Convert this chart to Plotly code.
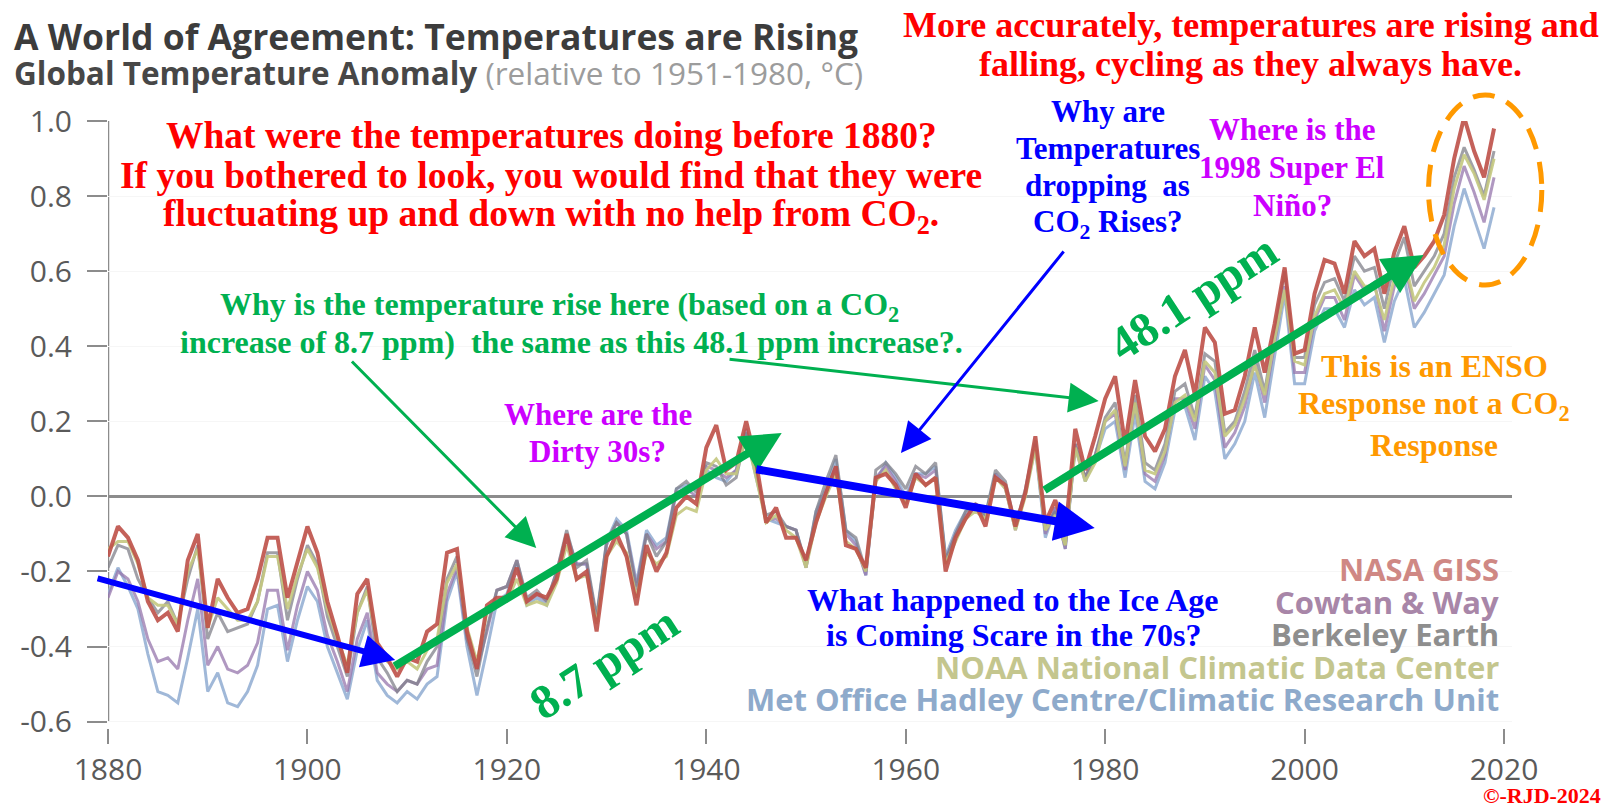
'''
    Global temperature anomaly chart (five datasets, 1880-2019)
    with the red / green / blue commentary laid over it.
'''

import plotly.graph_objects as go

years = list(range(1880, 2020))

nasa_giss = [
    -0.16, -0.08, -0.11, -0.17, -0.28, -0.33, -0.31, -0.36, -0.17, -0.10,
    -0.35, -0.22, -0.27, -0.31, -0.30, -0.22, -0.11, -0.11, -0.27, -0.17,
    -0.08, -0.15, -0.28, -0.37, -0.47, -0.26, -0.22, -0.39, -0.43, -0.48,
    -0.43, -0.44, -0.36, -0.34, -0.15, -0.14, -0.36, -0.46, -0.29, -0.27,
    -0.27, -0.19, -0.28, -0.26, -0.27, -0.22, -0.10, -0.22, -0.20, -0.36,
    -0.16, -0.10, -0.16, -0.29, -0.13, -0.20, -0.15, -0.03, -0.00, -0.02,
    0.13, 0.19, 0.07, 0.09, 0.20, 0.09, -0.07, -0.03, -0.11, -0.11,
    -0.17, -0.07, 0.01, 0.08, -0.13, -0.14, -0.19, 0.05, 0.06, 0.03,
    -0.03, 0.06, 0.03, 0.05, -0.20, -0.11, -0.06, -0.02, -0.08, 0.05,
    0.03, -0.08, 0.01, 0.16, -0.07, -0.01, -0.10, 0.18, 0.07, 0.16,
    0.26, 0.32, 0.14, 0.31, 0.16, 0.12, 0.18, 0.32, 0.39, 0.27,
    0.45, 0.41, 0.22, 0.23, 0.32, 0.45, 0.33, 0.46, 0.61, 0.38,
    0.39, 0.54, 0.63, 0.62, 0.54, 0.68, 0.64, 0.66, 0.54, 0.65,
    0.72, 0.61, 0.64, 0.68, 0.75, 0.90, 1.01, 0.92, 0.85, 0.98,
]

cowtan_way = [
    -0.27, -0.20, -0.22, -0.28, -0.38, -0.44, -0.43, -0.46, -0.33, -0.22,
    -0.45, -0.40, -0.46, -0.47, -0.45, -0.39, -0.25, -0.25, -0.41, -0.29,
    -0.20, -0.25, -0.37, -0.44, -0.52, -0.38, -0.31, -0.47, -0.50, -0.52,
    -0.49, -0.50, -0.46, -0.45, -0.26, -0.19, -0.38, -0.46, -0.36, -0.25,
    -0.24, -0.17, -0.28, -0.26, -0.28, -0.20, -0.10, -0.18, -0.18, -0.33,
    -0.13, -0.07, -0.10, -0.24, -0.10, -0.14, -0.12, 0.01, 0.02, 0.00,
    0.08, 0.07, 0.05, 0.07, 0.18, 0.06, -0.06, -0.06, -0.08, -0.09,
    -0.19, -0.05, 0.01, 0.08, -0.10, -0.13, -0.21, 0.05, 0.08, 0.04,
    -0.01, 0.06, 0.05, 0.07, -0.17, -0.10, -0.05, -0.03, -0.06, 0.06,
    0.02, -0.09, 0.01, 0.14, -0.10, -0.03, -0.14, 0.14, 0.05, 0.11,
    0.20, 0.22, 0.07, 0.25, 0.06, 0.04, 0.11, 0.26, 0.26, 0.18,
    0.35, 0.31, 0.13, 0.17, 0.24, 0.36, 0.25, 0.41, 0.56, 0.33,
    0.33, 0.47, 0.53, 0.53, 0.47, 0.59, 0.55, 0.57, 0.44, 0.56,
    0.62, 0.50, 0.54, 0.59, 0.64, 0.78, 0.88, 0.81, 0.73, 0.85,
]

berkeley_earth = [
    -0.19, -0.13, -0.14, -0.22, -0.27, -0.31, -0.28, -0.34, -0.22, -0.13,
    -0.38, -0.31, -0.36, -0.35, -0.34, -0.28, -0.15, -0.15, -0.33, -0.22,
    -0.13, -0.18, -0.32, -0.40, -0.48, -0.31, -0.24, -0.43, -0.47, -0.52,
    -0.49, -0.50, -0.44, -0.40, -0.22, -0.16, -0.38, -0.48, -0.35, -0.25,
    -0.24, -0.17, -0.27, -0.25, -0.28, -0.20, -0.09, -0.19, -0.17, -0.32,
    -0.12, -0.07, -0.10, -0.25, -0.10, -0.16, -0.12, 0.02, 0.04, 0.01,
    0.09, 0.08, 0.03, 0.05, 0.17, 0.06, -0.05, -0.04, -0.08, -0.09,
    -0.18, -0.04, 0.04, 0.11, -0.09, -0.11, -0.20, 0.07, 0.09, 0.06,
    0.02, 0.08, 0.06, 0.09, -0.17, -0.10, -0.04, -0.02, -0.05, 0.07,
    0.04, -0.08, 0.02, 0.15, -0.08, -0.04, -0.13, 0.14, 0.05, 0.11,
    0.21, 0.25, 0.09, 0.27, 0.09, 0.07, 0.14, 0.28, 0.30, 0.21,
    0.38, 0.36, 0.17, 0.20, 0.28, 0.39, 0.28, 0.44, 0.60, 0.37,
    0.37, 0.51, 0.57, 0.58, 0.52, 0.64, 0.60, 0.61, 0.50, 0.62,
    0.69, 0.56, 0.60, 0.64, 0.70, 0.85, 0.93, 0.87, 0.80, 0.92,
]

noaa_ncdc = [
    -0.14, -0.12, -0.12, -0.18, -0.27, -0.29, -0.29, -0.34, -0.20, -0.14,
    -0.35, -0.27, -0.30, -0.33, -0.33, -0.28, -0.16, -0.16, -0.30, -0.21,
    -0.14, -0.19, -0.30, -0.38, -0.45, -0.31, -0.25, -0.39, -0.44, -0.46,
    -0.44, -0.46, -0.41, -0.38, -0.23, -0.18, -0.35, -0.44, -0.31, -0.28,
    -0.28, -0.22, -0.29, -0.28, -0.29, -0.23, -0.13, -0.22, -0.21, -0.34,
    -0.16, -0.12, -0.15, -0.27, -0.15, -0.18, -0.16, -0.05, -0.03, -0.04,
    0.07, 0.10, 0.06, 0.06, 0.16, 0.05, -0.07, -0.05, -0.09, -0.11,
    -0.19, -0.07, 0.00, 0.06, -0.12, -0.14, -0.20, 0.04, 0.07, 0.02,
    -0.02, 0.05, 0.03, 0.05, -0.18, -0.12, -0.06, -0.04, -0.06, 0.05,
    0.02, -0.09, 0.00, 0.13, -0.09, -0.05, -0.13, 0.13, 0.04, 0.09,
    0.20, 0.23, 0.08, 0.25, 0.07, 0.06, 0.12, 0.25, 0.27, 0.20,
    0.36, 0.33, 0.16, 0.19, 0.26, 0.35, 0.27, 0.42, 0.55, 0.36,
    0.35, 0.48, 0.54, 0.55, 0.50, 0.60, 0.56, 0.56, 0.47, 0.58,
    0.63, 0.52, 0.57, 0.61, 0.67, 0.82, 0.91, 0.86, 0.79, 0.90,
]

met_office_cru = [
    -0.26, -0.19, -0.24, -0.30, -0.42, -0.52, -0.53, -0.55, -0.43, -0.30,
    -0.52, -0.47, -0.55, -0.56, -0.52, -0.45, -0.30, -0.29, -0.44, -0.33,
    -0.24, -0.28, -0.40, -0.47, -0.54, -0.41, -0.33, -0.49, -0.53, -0.55,
    -0.52, -0.54, -0.50, -0.48, -0.28, -0.20, -0.40, -0.53, -0.41, -0.28,
    -0.26, -0.18, -0.29, -0.27, -0.29, -0.21, -0.11, -0.18, -0.18, -0.33,
    -0.12, -0.06, -0.09, -0.23, -0.09, -0.13, -0.11, 0.02, 0.03, 0.02,
    0.07, 0.05, 0.04, 0.07, 0.17, 0.05, -0.06, -0.07, -0.08, -0.09,
    -0.19, -0.04, 0.02, 0.10, -0.09, -0.12, -0.21, 0.04, 0.09, 0.05,
    0.00, 0.06, 0.06, 0.08, -0.16, -0.09, -0.04, -0.03, -0.05, 0.06,
    0.03, -0.08, 0.01, 0.13, -0.11, -0.03, -0.14, 0.13, 0.04, 0.10,
    0.18, 0.20, 0.05, 0.22, 0.04, 0.02, 0.09, 0.23, 0.24, 0.15,
    0.32, 0.28, 0.10, 0.14, 0.20, 0.33, 0.21, 0.38, 0.54, 0.30,
    0.30, 0.44, 0.50, 0.50, 0.45, 0.55, 0.51, 0.53, 0.41, 0.52,
    0.58, 0.45, 0.49, 0.54, 0.59, 0.72, 0.82, 0.74, 0.66, 0.77,
]

x_tick_vals = [1880, 1900, 1920, 1940, 1960, 1980, 2000, 2020]
y_tick_vals = [1.0, 0.8, 0.6, 0.4, 0.2, 0.0, -0.2, -0.4, -0.6]
y_tick_text = ['1.0', '0.8', '0.6', '0.4', '0.2', '0.0', '-0.2', '-0.4', '-0.6']

legend_names = [
    'NASA GISS',
    'Cowtan & Way',
    'Berkeley Earth',
    'NOAA National Climatic Data Center',
    'Met Office Hadley Centre/Climatic Research Unit',
]

SERIF = 'Liberation Serif'
SANS = 'Open Sans'
RED = '#ff0000'
GREEN = '#00b050'
BLUE = '#0000ff'
MAGENTA = '#cc00ff'
ORANGE = '#ff9900'

# the page body keeps its 8px margin, so the figure is 8px smaller than the
# window; all positions below are in figure pixels
FIG_W, FIG_H = 1605, 799
LEFT, RIGHT, TOP, BOTTOM = 91, 1504, 113, 720
X_MAX = 2020.8
Y_MIN, Y_MAX = -0.617, 1.0
PX_PER_YEAR = (RIGHT - LEFT) / (X_MAX - 1880)
PX_PER_DEG = (BOTTOM - TOP) / (Y_MAX - Y_MIN)


def fx(px):
    '''Figure pixel column -> year (for arrows).'''
    return 1880 + (px - LEFT) / PX_PER_YEAR


def fy(py):
    '''Figure pixel row -> anomaly (for arrows).'''
    return Y_MAX - (py - TOP) / PX_PER_DEG


def paper_x(px):
    return (px - LEFT) / (RIGHT - LEFT)


def paper_y(py):
    return (BOTTOM - py) / (BOTTOM - TOP)


fig = go.Figure()

series = [
    (met_office_cru, 'rgba(150,176,212,0.9)', 3),
    (cowtan_way, 'rgba(150,118,172,0.75)', 3),
    (berkeley_earth, 'rgba(128,128,138,0.75)', 3),
    (noaa_ncdc, 'rgba(196,200,128,0.9)', 3),
    (nasa_giss, 'rgba(190,80,72,0.9)', 4),
]
for values, color, width in series:
    fig.add_trace(go.Scatter(
        x=years, y=values, mode='lines',
        line=dict(color=color, width=width),
        hoverinfo='skip', showlegend=False,
    ))


def label(px, py, text, size, color, family=SERIF, anchor='center',
          angle=0, weight='bold'):
    fig.add_annotation(
        x=paper_x(px), y=paper_y(py), xref='paper', yref='paper', text=text,
        showarrow=False, xanchor=anchor, yanchor='middle', textangle=angle,
        font=dict(family=family, size=size, color=color, weight=weight),
    )


def arrow(tail, head, color, width, size):
    fig.add_annotation(
        x=fx(head[0]), y=fy(head[1]), ax=fx(tail[0]), ay=fy(tail[1]),
        xref='x', yref='y', axref='x', ayref='y', text='',
        showarrow=True, arrowhead=2, arrowsize=size, arrowwidth=width,
        arrowcolor=color, standoff=0,
    )


# chart title block
label(-6, 28, 'A World of Agreement: Temperatures are Rising', 35.5,
      '#3c3c3c', family=SANS, anchor='left')
label(-6, 64, "<b>Global Temperature Anomaly</b> "
      "<span style='color:#9c9c9c'>(relative to 1951-1980, °C)</span>",
      31.5, '#474747', family=SANS, anchor='left', weight='normal')

# source legend, right aligned
legend_colors = ['#cf8884', '#a886a8', '#8e8e8e', '#c4c68e', '#8eaacb']
for i, (name, color) in enumerate(zip(legend_names, legend_colors)):
    label(1493, 561 + i * 32.5, name, 31, color, family=SANS, anchor='right')

# commentary
for i, line in enumerate([
        'What were the temperatures doing before 1880?',
        'If you bothered to look, you would find that they were',
        'fluctuating up and down with no help from CO<sub>2</sub>.']):
    label(537, 127 + i * 40.5, line, 37.5, RED)

for i, line in enumerate([
        'More accurately, temperatures are rising and',
        'falling, cycling as they always have.']):
    label(1241, 17 + i * 39, line, 36, RED)

for i, line in enumerate(['Why are', 'Temperatures', 'dropping  as',
                          'CO<sub>2</sub> Rises?']):
    label(1097, 103 + i * 37.5, line, 31, BLUE)

for i, line in enumerate(['Where is the', '1998 Super El', 'Niño?']):
    label(1283, 122 + i * 37.5, line, 31, MAGENTA)

label(545, 298, 'Why is the temperature rise here (based on a CO<sub>2</sub>',
      32, GREEN)
label(557, 334, 'increase of 8.7 ppm)  the same as this 48.1 ppm increase?.',
      32, GREEN)

label(584, 406, 'Where are the', 31, MAGENTA)
label(584, 443, 'Dirty 30s?', 31, MAGENTA)

for i, line in enumerate(['This is an ENSO',
                          'Response not a CO<sub>2</sub>', 'Response']):
    label(1426, 358 + i * 39.5, line, 32, ORANGE)

label(1002, 592, 'What happened to the Ice Age', 32, BLUE)
label(1002, 627, 'is Coming Scare in the 70s?', 32, BLUE)

label(590, 654, '8.7 ppm', 48, GREEN, angle=-33)
label(1182, 289, '48.1 ppm', 48, GREEN, angle=-33)

label(1596, 787, '©-RJD-2024', 22, RED, anchor='right')

# arrows (tail, head) in figure pixels
arrow((79, 570), (380, 652), BLUE, 6, 1.1)
arrow((378, 659), (769, 425), GREEN, 8, 1.0)
arrow((742, 461), (1084, 520), BLUE, 8, 1.0)
arrow((1032, 483), (1415, 247), GREEN, 8, 1.0)
arrow((335, 352), (522, 540), GREEN, 3, 2.0)
arrow((715, 351), (1088, 393), GREEN, 3, 2.0)
arrow((1054, 242), (889, 445), BLUE, 3, 2.0)

# y axis line, dashed ellipse round the latest peak, dark right border
fig.add_shape(type='line', x0=1880, x1=1880, y0=-0.6, y1=1.0,
              xref='x', yref='y', line=dict(color='#8c8c8c', width=2.5),
              layer='below')
fig.add_shape(type='circle', x0=paper_x(1420), x1=paper_x(1534),
              y0=paper_y(277), y1=paper_y(87), xref='paper', yref='paper',
              line=dict(color=ORANGE, width=5, dash='22px,13px'))
fig.add_shape(type='rect', x0=paper_x(1598), x1=paper_x(1603), y0=-0.3,
              y1=1.3, xref='paper', yref='paper', line=dict(width=0),
              fillcolor='#3c2412')

fig.update_layout(
    width=FIG_W, height=FIG_H,
    margin=dict(l=LEFT, r=FIG_W - RIGHT, t=TOP, b=FIG_H - BOTTOM),
    paper_bgcolor='white', plot_bgcolor='white',
    showlegend=False, hovermode=False,
    xaxis=dict(
        range=[1880, X_MAX], tickvals=x_tick_vals,
        showline=False, showgrid=False, zeroline=False,
        ticks='outside', ticklen=15, tickwidth=2, tickcolor='#8c8c8c',
        tickfont=dict(family=SANS, size=30, color='#5a5a5a'),
    ),
    yaxis=dict(
        range=[Y_MIN, Y_MAX], tickvals=y_tick_vals, ticktext=y_tick_text,
        showline=False, showgrid=True, gridcolor='#f6f6f6',
        zeroline=True, zerolinecolor='#8c8c8c', zerolinewidth=2.5,
        ticks='outside', ticklen=20, tickwidth=2, tickcolor='#8c8c8c',
        ticklabelstandoff=9,
        tickfont=dict(family=SANS, size=30, color='#5a5a5a'),
    ),
)

fig.write_html('out.html')
